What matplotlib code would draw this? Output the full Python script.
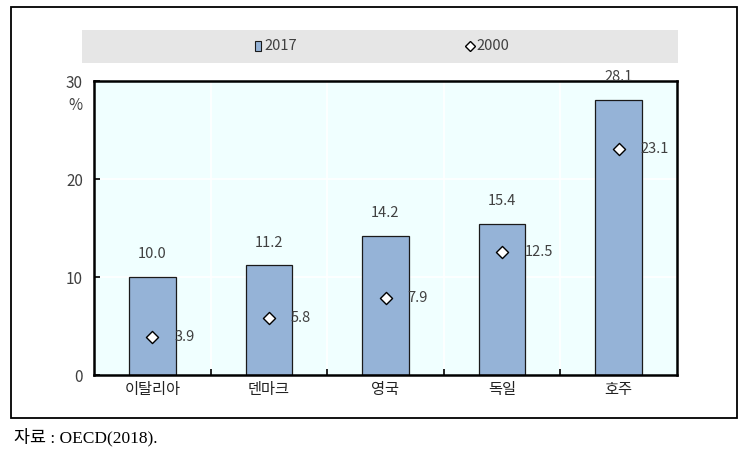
import matplotlib
matplotlib.use("Agg")
import matplotlib.pyplot as plt
from matplotlib.patches import Rectangle
import numpy as np

categories = ["이탈리아", "덴마크", "영국", "독일", "호주"]
v2017 = [10.0, 11.2, 14.2, 15.4, 28.1]
v2000 = [3.9, 5.8, 7.9, 12.5, 23.1]
yticks = [0, 10, 20, 30]

plt.rcParams['font.family'] = ['Noto Sans CJK KR', 'DejaVu Sans']
W, H = 741, 461
fig = plt.figure(figsize=(W/100, H/100), dpi=100)

def fx(x): return x / W
def fy(y): return 1 - y / H

TXT = '#404040'

# outer frame
fig.patches.append(Rectangle((fx(11), fy(418)), fx(737) - fx(11), fy(7) - fy(418),
                             transform=fig.transFigure, fill=False, edgecolor='black', lw=1.3))
# legend band
fig.patches.append(Rectangle((fx(82), fy(63)), fx(678) - fx(82), fy(30) - fy(63),
                             transform=fig.transFigure, facecolor='#E6E6E6', edgecolor='none'))

ax = fig.add_axes([fx(94), fy(375), fx(677) - fx(94), fy(81) - fy(375)])
ax.set_facecolor('#F0FFFF')
x = np.arange(len(categories))
ax.set_xlim(-0.5, len(categories) - 0.5)
ax.set_ylim(0, 30)

for b in np.arange(0.5, len(categories) - 0.5, 1):
    ax.axvline(b, color='white', lw=1.2, zorder=1)
for yy in [10, 20]:
    ax.axhline(yy, color='white', lw=1.2, zorder=1)

ax.bar(x, v2017, width=0.4, color='#95B3D7', edgecolor='#1a1a1a', lw=0.9, zorder=2)
ax.scatter(x, v2000, marker='D', s=38, facecolor='white', edgecolor='black', lw=1.0, zorder=3)

for xi, v in zip(x, v2017):
    ax.text(xi, v + 1.6, f"{v:.1f}", ha='center', va='bottom', fontsize=10.5, color=TXT, zorder=4)
for xi, v in zip(x, v2000):
    ax.text(xi + 0.19, v, f"{v:.1f}", ha='left', va='center', fontsize=10.5, color=TXT, zorder=4)

ax.set_yticks(yticks)
ax.set_yticklabels([str(t) for t in yticks], fontsize=11, color=TXT)
ax.set_xticks(x)
ax.set_xticklabels(categories, fontsize=11, color='#222222')
ax.set_xticks(np.arange(0.5, len(categories) - 0.5, 1), minor=True)
ax.tick_params(axis='x', which='major', length=0, pad=4)
ax.tick_params(axis='x', which='minor', direction='in', length=4, width=1.2)
ax.tick_params(axis='y', direction='in', length=4, width=1.2, pad=8)
for s in ax.spines.values():
    s.set_linewidth(1.8)
    s.set_color('black')

fig.text(fx(75), fy(105), "%", ha='center', va='center', fontsize=11, color=TXT)

# legend entries
fig.patches.append(Rectangle((fx(255), fy(51)), fx(6), fy(41) - fy(51), transform=fig.transFigure,
                             facecolor='#95B3D7', edgecolor='#1a1a1a', lw=0.8))
fig.text(fx(264), fy(46), "2017", ha='left', va='center', fontsize=10.5, color=TXT)
fig.lines.append(plt.Line2D([fx(470)], [fy(46)], marker='D', markersize=5, markerfacecolor='white',
                            markeredgecolor='black', transform=fig.transFigure, ls='none'))
fig.text(fx(476), fy(46), "2000", ha='left', va='center', fontsize=10.5, color=TXT)

fig.text(fx(14), fy(437), "자료 : OECD(2018).", ha='left', va='center', fontsize=12.5,
         color='black', family=['Liberation Serif', 'Noto Sans CJK KR'])

fig.savefig("out.png", dpi=100)
